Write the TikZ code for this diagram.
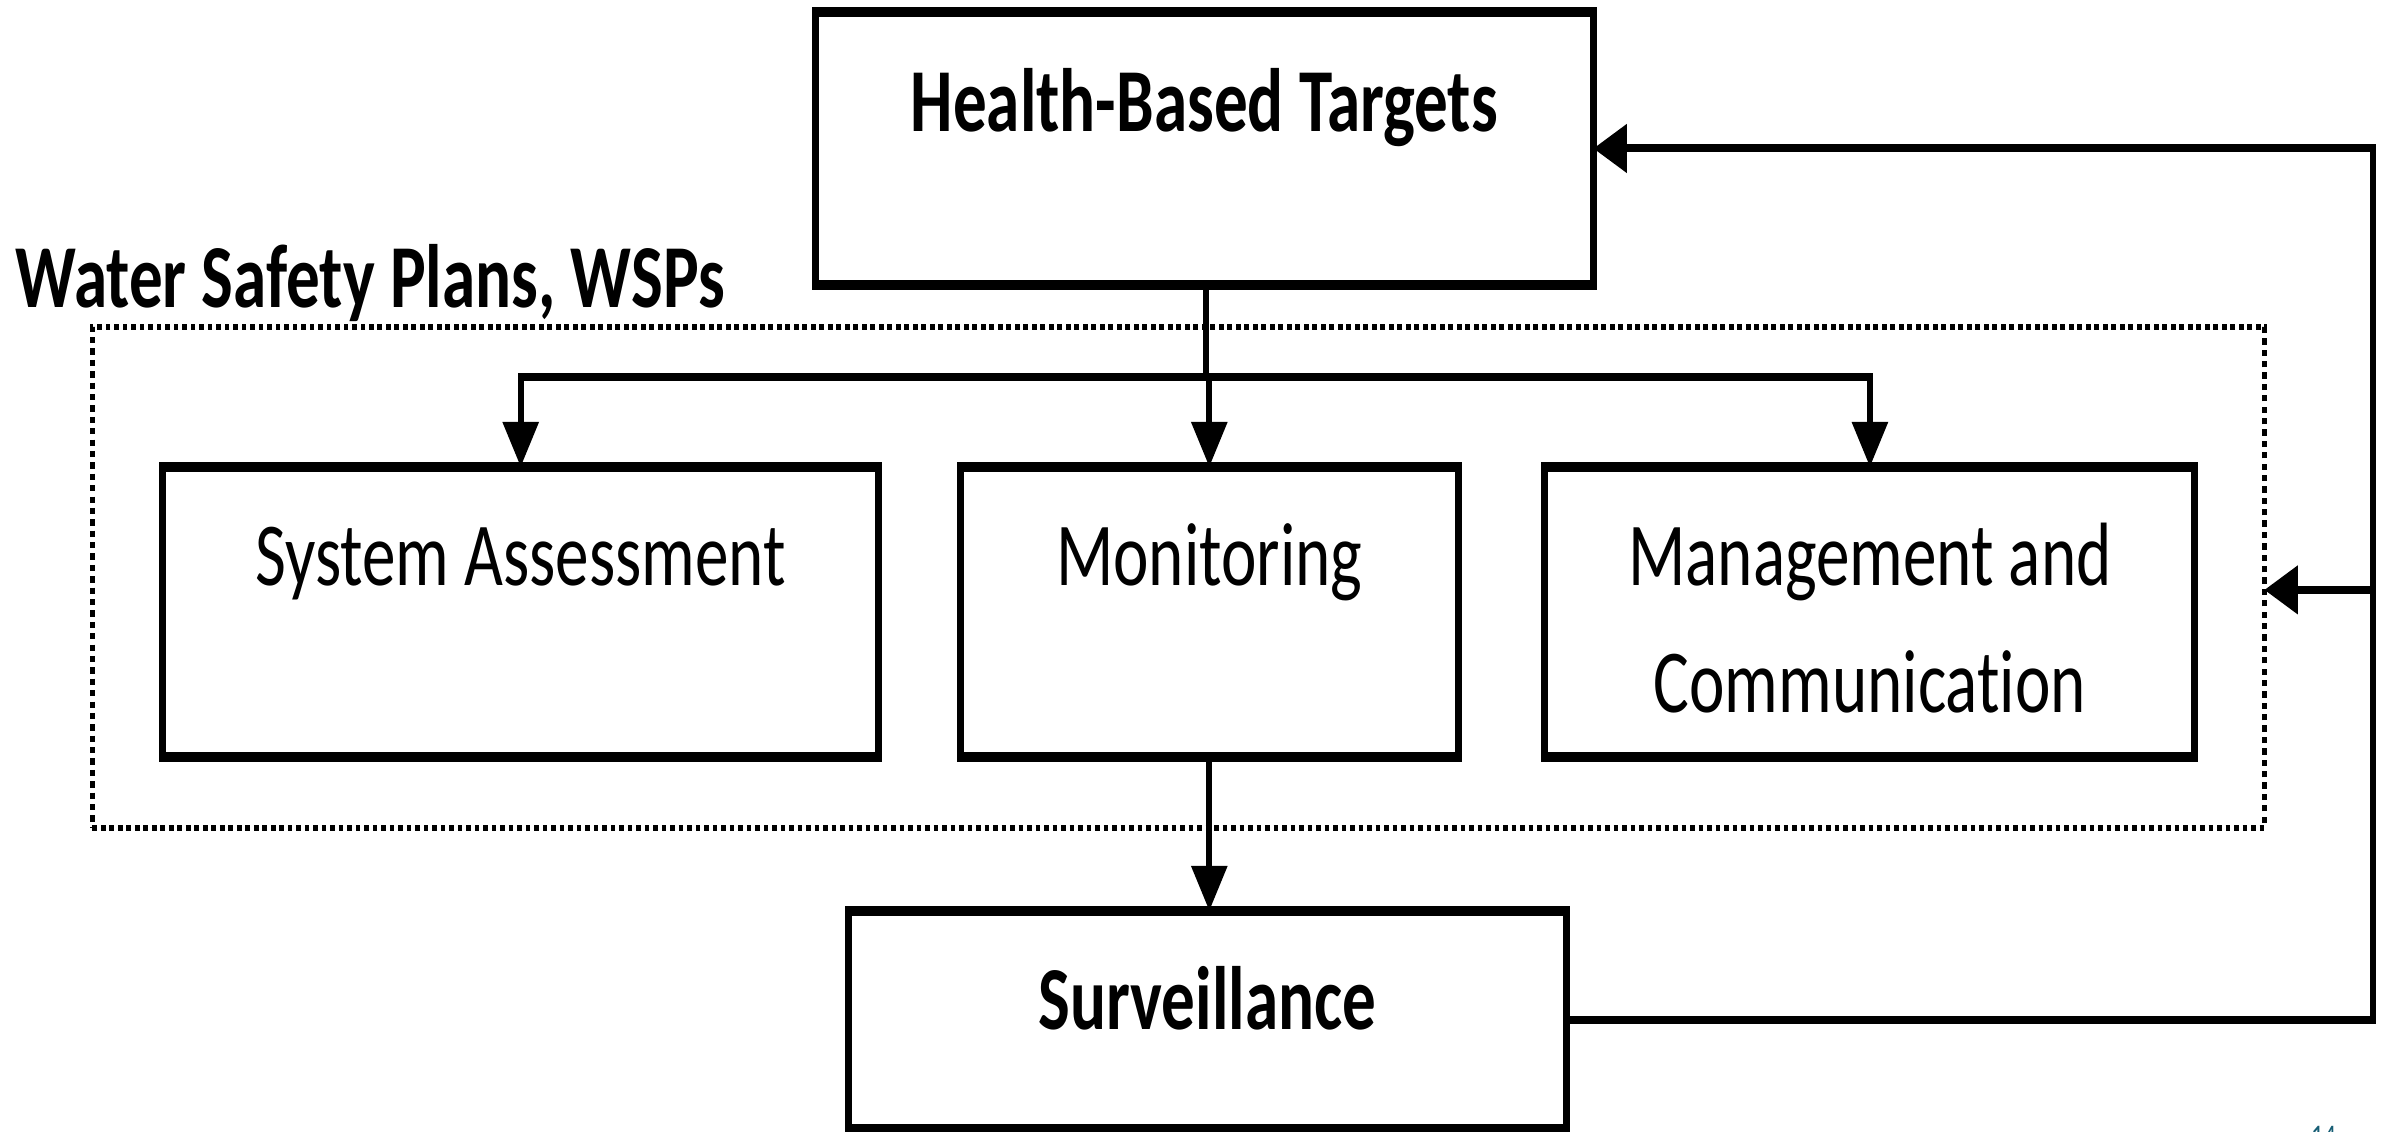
\documentclass[tikz,border=0pt]{standalone}
\usepackage{fontspec}
\setmainfont{Carlito}[Ligatures={NoCommon}]
\usetikzlibrary{arrows.meta}
\definecolor{pagenum}{RGB}{23,94,117}

\begin{document}
\begin{tikzpicture}
  % page frame (the drawing itself is set in a vertically stretched canvas)
  \useasboundingbox[fill=white] (0,0) rectangle (23.9,-11.32);
  \begin{scope}[
      transform canvas={yscale=1.34},
      x=0.01cm, y=-0.0074627cm,
      box/.style={draw=black, line width=0.07cm, fill=white,
                  inner sep=0pt, outer sep=0pt},
      conn/.style={draw=black, line width=0.06cm, line join=miter},
      tip/.style={-{Triangle[length=0.335cm, width=0.35cm]}},
      frame/.style={draw=black, line width=0.047cm,
                    dash pattern=on 0.047cm off 0.038cm,
                    inner sep=0pt, outer sep=0pt},
      lbl/.style={inner sep=0pt, anchor=base,
                  font=\fontsize{19.1}{26.9}\selectfont},
      blbl/.style={lbl, font=\fontsize{19.1}{26.9}\selectfont\bfseries}
    ]
    % WSP group frame
    \node[frame, minimum width=21.72cm, minimum height=3.7388cm]
      (wsp) at (1179,577.5) {};
    \node[blbl, anchor=base west] (wspT) at (15,308) {Water Safety Plans, WSPs};

    % boxes
    \node[box, minimum width=7.78cm, minimum height=2.0373cm]
      (hbt) at (1205,148.5) {};
    \node[box, minimum width=7.16cm, minimum height=2.1642cm]
      (sa) at (521,612) {};
    \node[box, minimum width=4.98cm, minimum height=2.1642cm]
      (mon) at (1210,612) {};
    \node[box, minimum width=6.50cm, minimum height=2.1642cm]
      (mc) at (1871,612) {};
    \node[box, minimum width=7.18cm, minimum height=1.6269cm]
      (surv) at (1208,1020) {};

    % box labels
    \node[blbl] (hbtT) at (1205,132) {Health-Based Targets};
    \node[lbl] (saT) at (521,586) {System Assessment};
    \node[lbl] (monT) at (1210,586) {Monitoring};
    \node[lbl] (mcT1) at (1871,586) {Management and};
    \node[lbl] (mcT2) at (1871,713) {Communication};
    \node[blbl] (survT) at (1208,1030) {Surveillance};

    % targets feed the three WSP components
    \coordinate (split) at (1207,377);
    \draw[conn] (hbt.south -| split) -- (split);
    \draw[conn, tip] (split) -| (sa.north);
    \draw[conn, tip] (split) -| (mc.north);
    \draw[conn, tip] (split -| mon.north) -- (mon.north);

    % monitoring to surveillance
    \draw[conn, tip] (mon.south) -- (surv.north -| mon.south);

    % surveillance feedback loop
    \coordinate (loop) at (2374,590);
    \draw[conn, tip] (surv.east) -| (loop |- hbt.east) -- (hbt.east);
    \draw[conn, tip] (loop) -- (loop -| wsp.east);

    % page number at the lower edge
    \node[inner sep=0pt, anchor=north, text=pagenum,
          font=\fontsize{7}{8}\selectfont] (pg) at (2325,1126) {14};
  \end{scope}
\end{tikzpicture}
\end{document}
